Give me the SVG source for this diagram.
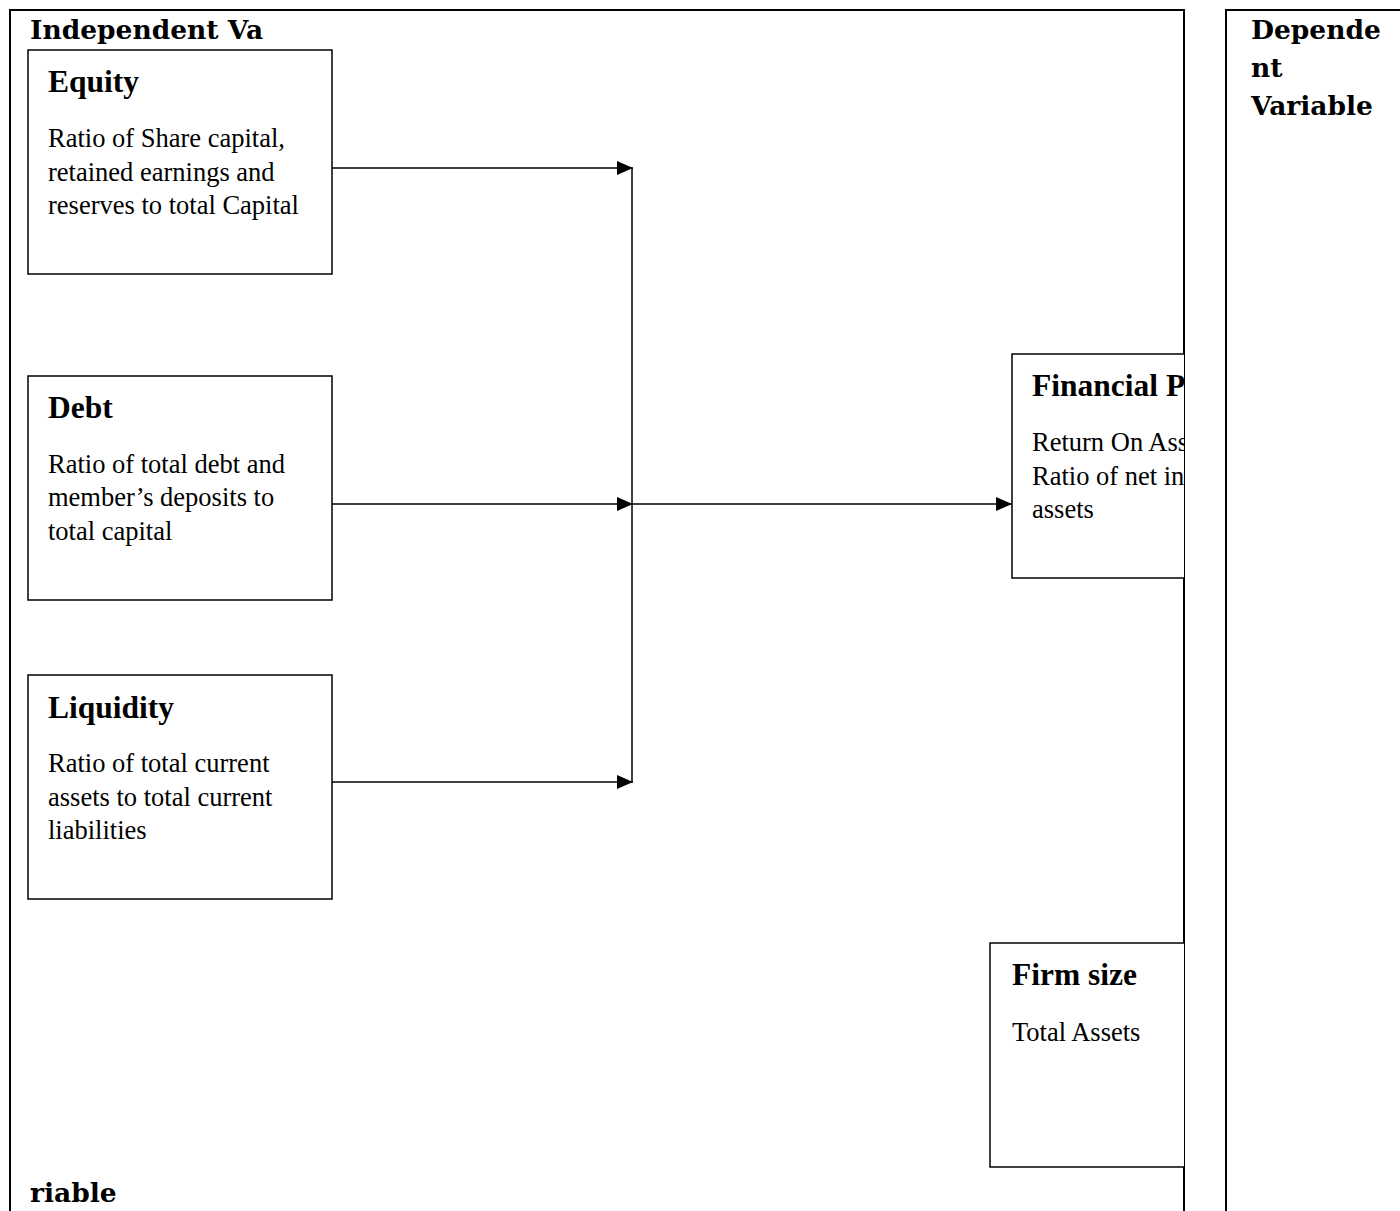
<svg xmlns="http://www.w3.org/2000/svg" width="1400" height="1211" viewBox="0 0 1400 1211">
<style>
.frame{fill:none;stroke:#000;stroke-width:2}
.box{fill:#fff;stroke:#000;stroke-width:1.5}
.hdr{font-family:"DejaVu Serif","Liberation Serif",serif;font-weight:bold;font-size:26.5px;fill:#000}
.ttl{font-family:"Liberation Serif","Times New Roman",serif;font-weight:bold;font-size:31.5px;fill:#000}
.txt{font-family:"Liberation Serif","Times New Roman",serif;font-size:26.5px;fill:#000}
.con{fill:none;stroke:#000;stroke-width:1.5}
</style>
<defs>
<marker id="ah" markerWidth="16" markerHeight="16" refX="16" refY="8" orient="auto" markerUnits="userSpaceOnUse">
<path d="M0,1 L16,8 L0,15 Z" fill="#000"/>
</marker>
<clipPath id="leftClip"><rect x="0" y="0" width="1184" height="1211"/></clipPath>
</defs>
<rect width="1400" height="1211" fill="#fff"/>
<g id="independent-frame">
<path class="frame" d="M10,1211 V10 H1184 V1211"/>
<text class="hdr" x="30" y="39">Independent Va</text>
<text class="hdr" x="30" y="1202">riable</text>
</g>
<g id="dependent-frame">
<path class="frame" d="M1226,1211 V10 H1401"/>
<text class="hdr" x="1251" y="39">Depende</text>
<text class="hdr" x="1251" y="77">nt</text>
<text class="hdr" x="1251" y="115">Variable</text>
</g>
<g id="connectors">
<path class="con" d="M332,168 H633" marker-end="url(#ah)"/>
<path class="con" d="M332,504 H633" marker-end="url(#ah)"/>
<path class="con" d="M332,782 H633" marker-end="url(#ah)"/>
<path class="con" d="M632,168 V782"/>
<path class="con" d="M632,504 H1012" marker-end="url(#ah)"/>
</g>
<g id="equity">
<rect class="box" x="28" y="50" width="304" height="224"/>
<text class="ttl" x="48" y="92">Equity</text>
<text class="txt" x="48" y="147">Ratio of Share capital,</text>
<text class="txt" x="48" y="181">retained earnings and</text>
<text class="txt" x="48" y="214">reserves to total Capital</text>
</g>
<g id="debt">
<rect class="box" x="28" y="376" width="304" height="224"/>
<text class="ttl" x="48" y="418">Debt</text>
<text class="txt" x="48" y="473">Ratio of total debt and</text>
<text class="txt" x="48" y="506">member’s deposits to</text>
<text class="txt" x="48" y="540">total capital</text>
</g>
<g id="liquidity">
<rect class="box" x="28" y="675" width="304" height="224"/>
<text class="ttl" x="48" y="718">Liquidity</text>
<text class="txt" x="48" y="772">Ratio of total current</text>
<text class="txt" x="48" y="806">assets to total current</text>
<text class="txt" x="48" y="839">liabilities</text>
</g>
<g id="financial-performance" clip-path="url(#leftClip)">
<rect class="box" x="1012" y="354" width="304" height="224"/>
<text class="ttl" x="1032" y="396">Financial Performance</text>
<text class="txt" x="1032" y="451">Return On Assets</text>
<text class="txt" x="1032" y="485">Ratio of net income to total</text>
<text class="txt" x="1032" y="518">assets</text>
</g>
<g id="firm-size" clip-path="url(#leftClip)">
<rect class="box" x="990" y="943" width="304" height="224"/>
<text class="ttl" x="1012" y="985">Firm size</text>
<text class="txt" x="1012" y="1041">Total Assets</text>
</g>
</svg>
